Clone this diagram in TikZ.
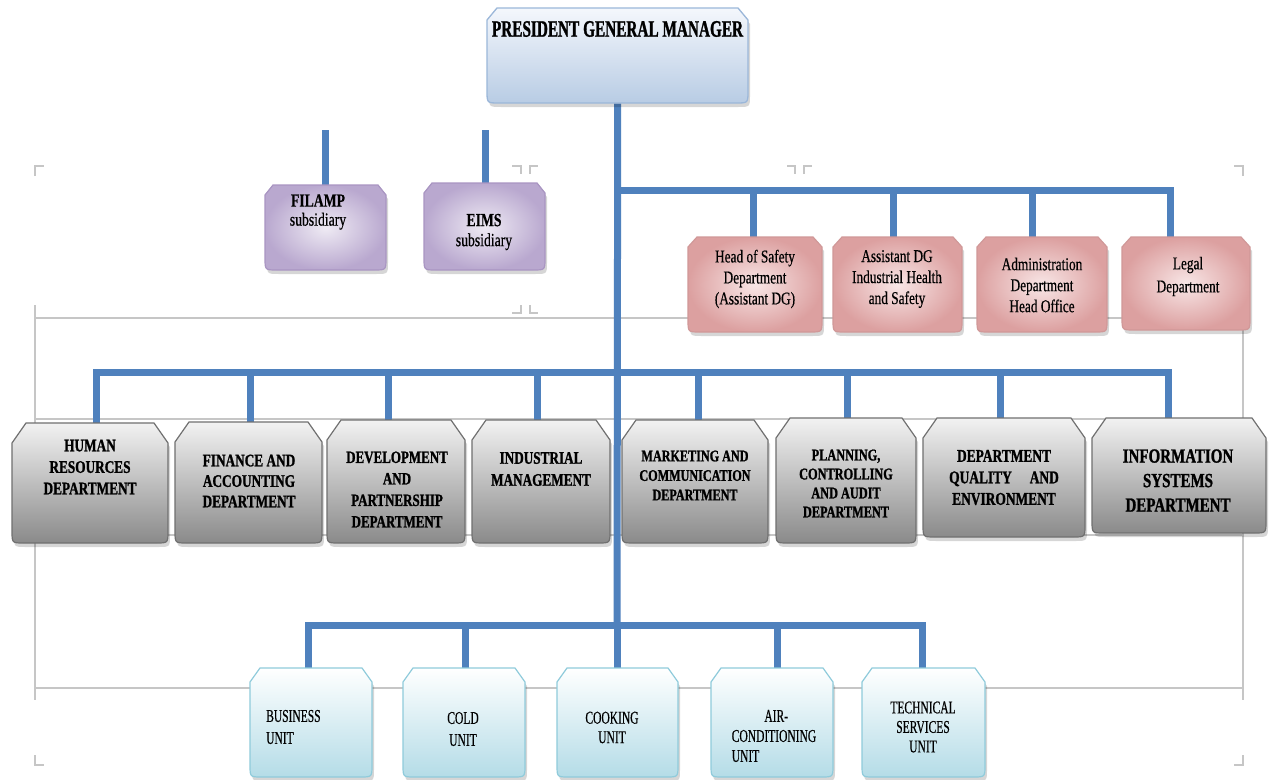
\documentclass[tikz,border=0pt]{standalone}
\usepackage{fontspec}
\setmainfont{Liberation Serif}
\newfontfamily\ftitle[FakeStretch=0.65, FakeBold=1.2]{Liberation Serif}
\newfontfamily\fdept[FakeStretch=0.75, FakeBold=1.2]{Liberation Serif}
\newfontfamily\fmid[FakeStretch=0.74, FakeBold=0.5]{Liberation Serif}
\newfontfamily\funit[FakeStretch=0.64, FakeBold=0.4]{Liberation Serif}

\definecolor{lineblue}{HTML}{4F81BD}
\definecolor{guidegray}{HTML}{C6C6C6}
\definecolor{ttop}{HTML}{F4F7FC}
\definecolor{tbot}{HTML}{B8CCE4}
\definecolor{tline}{HTML}{9BB7D9}
\definecolor{pinkL}{HTML}{F8E6E6}
\definecolor{pinkD}{HTML}{DCA0A0}
\definecolor{pinkE}{HTML}{D09898}
\definecolor{purpL}{HTML}{EFEBF4}
\definecolor{purpD}{HTML}{B9A8CF}
\definecolor{purpE}{HTML}{A995C2}
\definecolor{gtop}{HTML}{F2F2F2}
\definecolor{gmid}{HTML}{C8C8C8}
\definecolor{gbot}{HTML}{8A8A8A}
\definecolor{gline}{HTML}{707070}
\definecolor{utop}{HTML}{FFFFFF}
\definecolor{ubot}{HTML}{B4DCE7}
\definecolor{uline}{HTML}{8FCBDB}

\pgfdeclarelayer{bg}
\pgfsetlayers{bg,main}

% box with cut top corners and rounded bottom corners, plus an invisible named frame node
% #1 style, #2 name, #3 x1, #4 y1, #5 x2, #6 y2, #7 chamfer width, #8 chamfer height
\newcommand\orgbox[8]{%
  \fill[boxshadow, shift={(2,4)}] (#3,#4+#8) -- (#3+#7,#4) -- (#5-#7,#4) -- (#5,#4+#8)
    -- (#5,#6-12) .. controls (#5,#6) .. (#5-12,#6) -- (#3+12,#6)
    .. controls (#3,#6) .. (#3,#6-12) -- cycle;
  \path[#1] (#3,#4+#8) -- (#3+#7,#4) -- (#5-#7,#4) -- (#5,#4+#8)
    -- (#5,#6-12) .. controls (#5,#6) .. (#5-12,#6) -- (#3+12,#6)
    .. controls (#3,#6) .. (#3,#6-12) -- cycle;
  \node[anchor=north west, inner sep=0pt, minimum width={#5pt-#3pt},
        minimum height={#6pt-#4pt}] (#2) at (#3,#4) {};
}

\tikzset{
  bus/.style={draw=lineblue, line width=7pt},
  guide/.style={draw=guidegray, line width=1.1pt},
  boxshadow/.style={fill=black, fill opacity=0.16},
  titlebox/.style={top color=ttop, bottom color=tbot, draw=tline, line width=1.3pt},
  pinkbox/.style={shading=radial, inner color=pinkL, outer color=pinkD, draw=pinkE, line width=1.2pt},
  purplebox/.style={shading=radial, inner color=purpL, outer color=purpD, draw=purpE, line width=1.2pt},
  greybox/.style={top color=gtop, middle color=gmid, bottom color=gbot, draw=gline, line width=1.2pt},
  unitbox/.style={top color=utop, bottom color=ubot, draw=uline, line width=1.2pt},
  txt/.style={inner sep=0pt, align=center, text=black},
}

\begin{document}
\begin{tikzpicture}[x=1pt, y=-1pt]
\useasboundingbox (0,0) rectangle (1271,779);

% ---- boxes ----
\orgbox{titlebox}{pgm}{487}{8}{748}{103}{10}{12}

\orgbox{purplebox}{filamp}{265}{185}{386}{270}{8}{10}
\orgbox{purplebox}{eims}{424}{183}{545}{270}{8}{10}

\orgbox{pinkbox}{hsd}{688}{237}{822}{332}{9}{10}
\orgbox{pinkbox}{adg}{833}{237}{962}{332}{9}{10}
\orgbox{pinkbox}{adm}{977}{237}{1107}{332}{9}{10}
\orgbox{pinkbox}{legal}{1122}{237}{1250}{330}{9}{10}

\orgbox{greybox}{hr}{12}{423}{168}{543}{14}{20}
\orgbox{greybox}{fin}{175}{422}{322}{543}{14}{20}
\orgbox{greybox}{dev}{327}{420}{465}{543}{14}{20}
\orgbox{greybox}{ind}{472}{420}{610}{543}{14}{20}
\orgbox{greybox}{mkt}{622}{420}{768}{543}{14}{20}
\orgbox{greybox}{pca}{776}{418}{916}{543}{14}{20}
\orgbox{greybox}{dqe}{923}{418}{1085}{537}{14}{20}
\orgbox{greybox}{isd}{1092}{418}{1266}{533}{14}{20}

\orgbox{unitbox}{bu}{250}{668}{372}{777}{10}{14}
\orgbox{unitbox}{cu}{403}{668}{525}{777}{10}{14}
\orgbox{unitbox}{cku}{557}{668}{678}{777}{10}{14}
\orgbox{unitbox}{acu}{711}{668}{833}{777}{10}{14}
\orgbox{unitbox}{tsu}{862}{668}{985}{777}{10}{14}

% ---- junction points on the buses ----
\coordinate (trunkR) at (617,190);
\coordinate (r1) at (753,190);
\coordinate (r2) at (893,190);
\coordinate (r3) at (1032,190);
\coordinate (r4) at (1170,190);
\coordinate (s1) at (325,130);
\coordinate (s2) at (485,130);
\coordinate (m1) at (96,372);
\coordinate (m2) at (250,372);
\coordinate (m3) at (388,372);
\coordinate (m4) at (537,372);
\coordinate (m5) at (698,372);
\coordinate (m6) at (847,372);
\coordinate (m7) at (1000,372);
\coordinate (m8) at (1168,372);
\coordinate (trunkB) at (617,625);
\coordinate (b1) at (308,625);
\coordinate (b2) at (465,625);
\coordinate (b4) at (777,625);
\coordinate (b5) at (922,625);

\begin{pgfonlayer}{bg}
  \fill[white] (0,0) rectangle (1271,779);
  % guide frame
  \draw[guide] (35,305) -- (35,700);
  \draw[guide] (1243,305) -- (1243,700);
  \draw[guide] (35,318) -- (1243,318);
  \draw[guide] (35,419) -- (1243,419);
  \draw[guide] (35,535) -- (1243,535);
  \draw[guide] (35,688) -- (1243,688);
  \draw[guide] (35,176) -- (35,166) -- (44,166);
  \draw[guide] (1234,166) -- (1243,166) -- (1243,176);
  \draw[guide] (35,755) -- (35,765) -- (44,765);
  \draw[guide] (1234,765) -- (1243,765) -- (1243,755);
  \draw[guide] (512,166) -- (521,166) -- (521,174);
  \draw[guide] (530,174) -- (530,166) -- (538,166);
  \draw[guide] (787,166) -- (795,166) -- (795,174);
  \draw[guide] (804,174) -- (804,166) -- (812,166);
  \draw[guide] (521,305) -- (521,313) -- (512,313);
  \draw[guide] (530,305) -- (530,313) -- (538,313);

  % main trunk
  \draw[bus] (pgm.south) -- (trunkB);
  % staff departments
  \draw[bus] (trunkR) -| (r4 |- legal.north);
  \draw[bus] (r1) -- (r1 |- hsd.north);
  \draw[bus] (r2) -- (r2 |- adg.north);
  \draw[bus] (r3) -- (r3 |- adm.north);
  % subsidiaries
  \draw[bus] (s1) -- (s1 |- filamp.north);
  \draw[bus] (s2) -- (s2 |- eims.north);
  % operational departments
  \draw[bus] (m1 |- hr.north) -- (m1) -- (m8) -- (m8 |- isd.north);
  \draw[bus] (m2) -- (m2 |- fin.north);
  \draw[bus] (m3) -- (m3 |- dev.north);
  \draw[bus] (m4) -- (m4 |- ind.north);
  \draw[bus] (m5) -- (m5 |- mkt.north);
  \draw[bus] (m6) -- (m6 |- pca.north);
  \draw[bus] (m7) -- (m7 |- dqe.north);
  % units
  \draw[bus] (b1 |- bu.north) -- (b1) -- (b5) -- (b5 |- tsu.north);
  \draw[bus] (b2) -- (b2 |- cu.north);
  \draw[bus] (trunkB) -- (trunkB |- cku.north);
  \draw[bus] (b4) -- (b4 |- acu.north);
\end{pgfonlayer}

% ---- labels ----
\node[txt, font=\ftitle\bfseries\fontsize{23.5}{26}\selectfont] (pgm-t) at (617.5,29) {PRESIDENT GENERAL MANAGER};

\node[txt, font=\fmid\fontsize{18.5}{19}\selectfont] (filamp-t) at (318,212) {\textbf{FILAMP}\\subsidiary};
\node[txt, font=\fmid\fontsize{18.5}{20}\selectfont] (eims-t) at (484,232) {\textbf{EIMS}\\subsidiary};

\node[txt, font=\fmid\fontsize{18}{21}\selectfont] (hsd-t) at (755,279) {Head of Safety\\Department\\(Assistant DG)};
\node[txt, font=\fmid\fontsize{18}{21}\selectfont] (adg-t) at (897,279) {Assistant DG\\Industrial Health\\and Safety};
\node[txt, font=\fmid\fontsize{18}{21}\selectfont] (adm-t) at (1042,285) {Administration\\Department\\Head Office};
\node[txt, font=\fmid\fontsize{18}{23}\selectfont] (legal-t) at (1188,276.5) {Legal\\Department};

\node[txt, font=\fdept\bfseries\fontsize{17.7}{21.5}\selectfont] (hr-t) at (90,467) {HUMAN\\RESOURCES\\DEPARTMENT};
\node[txt, font=\fdept\bfseries\fontsize{17.7}{20.5}\selectfont] (fin-t) at (249,481) {FINANCE AND\\ACCOUNTING\\DEPARTMENT};
\node[txt, font=\fdept\bfseries\fontsize{17.3}{21.5}\selectfont] (dev-t) at (397,489.5) {DEVELOPMENT\\AND\\PARTNERSHIP\\DEPARTMENT};
\node[txt, font=\fdept\bfseries\fontsize{17.6}{22}\selectfont] (ind-t) at (541,469) {INDUSTRIAL\\MANAGEMENT};
\node[txt, font=\fdept\bfseries\fontsize{16.2}{19.5}\selectfont] (mkt-t) at (695,475.5) {MARKETING AND\\COMMUNICATION\\DEPARTMENT};
\node[txt, font=\fdept\bfseries\fontsize{16.4}{19}\selectfont] (pca-t) at (846,483.5) {PLANNING,\\CONTROLLING\\AND AUDIT\\DEPARTMENT};
\node[txt, font=\fdept\bfseries\fontsize{17.9}{21.5}\selectfont] (dqe-t) at (1004,477.5) {DEPARTMENT\\QUALITY\hspace{1em}AND\\ENVIRONMENT};
\node[txt, font=\fdept\bfseries\fontsize{20}{24.5}\selectfont] (isd-t) at (1178,480.5) {INFORMATION\\SYSTEMS\\DEPARTMENT};

\node[txt, align=left, anchor=west, font=\funit\fontsize{18}{22}\selectfont] (bu-t) at (266,727) {BUSINESS\\UNIT};
\node[txt, font=\funit\fontsize{18}{22}\selectfont] (cu-t) at (463,729) {COLD\\UNIT};
\node[txt, font=\funit\fontsize{18}{19.5}\selectfont] (cku-t) at (612,727.5) {COOKING\\UNIT};
\node[txt, align=left, font=\funit\fontsize{18}{20}\selectfont] (acu-t) at (774,736) {\phantom{COND}AIR-\\CONDITIONING\\UNIT};
\node[txt, font=\funit\fontsize{18}{19.5}\selectfont] (tsu-t) at (923,727) {TECHNICAL\\SERVICES\\UNIT};
\end{tikzpicture}
\end{document}
